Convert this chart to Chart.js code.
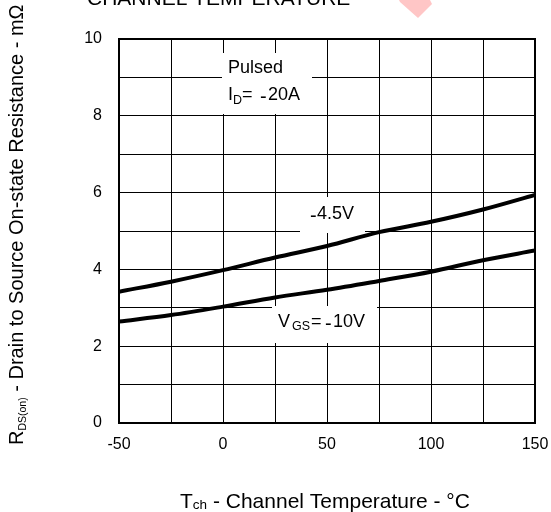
<!DOCTYPE html>
<html>
<head>
<meta charset="utf-8">
<script src="https://cdn.jsdelivr.net/npm/chart.js@4/dist/chart.umd.min.js"></script>
<style>
  html, body { margin: 0; padding: 0; background: #fff; }
  #wrap { width: 551px; height: 512px; }
</style>
</head>
<body>
<div id="wrap"><canvas id="c" width="551" height="512"></canvas></div>
<script>
// ---- data ----
const temps = [-50, -25, 0, 25, 50, 75, 100, 125, 150];           // Tch (°C)
const rdsVgs45 = [3.42, 3.68, 3.98, 4.31, 4.61, 4.97, 5.24, 5.56, 5.94]; // VGS = -4.5 V
const rdsVgs10 = [2.64, 2.81, 3.03, 3.27, 3.47, 3.70, 3.94, 4.24, 4.49]; // VGS = -10 V
const xTickLabels = [-50, 0, 50, 100, 150];
const yTickLabels = [0, 2, 4, 6, 8, 10];

const FONT = "'Liberation Sans', Arial, Helvetica, sans-serif";

function drawParts(ctx, parts) {
  for (const p of parts) {
    ctx.font = p.size + 'px ' + FONT;
    ctx.fillText(p.t, p.x, p.y);
  }
}

const decor = {
  id: 'decor',
  beforeDatasetsDraw(chart) {
    const ctx = chart.ctx;
    const a = chart.chartArea;
    ctx.save();
    // white label backgrounds (break the grid like the original)
    ctx.fillStyle = '#fff';
    ctx.fillRect(222, 53, 90, 61);
    ctx.fillRect(300, 197, 65, 36);
    ctx.fillRect(272, 306, 105, 37);
    // frame
    ctx.strokeStyle = '#000';
    ctx.lineWidth = 2;
    ctx.strokeRect(a.left, a.top, a.right - a.left, a.bottom - a.top);

    ctx.fillStyle = '#000';
    ctx.textAlign = 'left';
    ctx.textBaseline = 'alphabetic';
    // Pulsed / ID = -20A
    drawParts(ctx, [
      {t: 'Pulsed', x: 228, y: 73, size: 18},
      {t: 'I', x: 228, y: 100, size: 18},
      {t: 'D', x: 233, y: 104, size: 12.5},
      {t: '=', x: 242, y: 100, size: 18},
      {t: '-', x: 260, y: 103, size: 20},
      {t: '20A', x: 268, y: 100, size: 18}
    ]);
    // -4.5V
    drawParts(ctx, [
      {t: '-', x: 310, y: 222, size: 20},
      {t: '4.5V', x: 317, y: 219, size: 18}
    ]);
    // VGS = -10V
    drawParts(ctx, [
      {t: 'V', x: 278, y: 327, size: 18},
      {t: 'GS', x: 292, y: 330, size: 12.5},
      {t: '=', x: 311, y: 327, size: 18},
      {t: '-', x: 325, y: 330, size: 20},
      {t: '10V', x: 333, y: 327, size: 18}
    ]);
    ctx.restore();
  },
  afterDraw(chart) {
    const ctx = chart.ctx;
    ctx.save();
    ctx.fillStyle = '#000';
    ctx.textBaseline = 'alphabetic';
    ctx.textAlign = 'left';
    // cut-off heading at the very top
    ctx.font = '21px ' + FONT;
    ctx.fillText('CHANNEL TEMPERATURE', 87, 5);
    // x-axis title
    let x = 180;
    ctx.font = '21px ' + FONT;
    ctx.fillText('T', x, 508); x += ctx.measureText('T').width;
    ctx.font = '13.5px ' + FONT;
    ctx.fillText('ch', x, 509); x += ctx.measureText('ch').width;
    ctx.font = '21px ' + FONT;
    ctx.fillText(' - Channel Temperature - \u00B0C', x, 508);
    // y-axis title (rotated)
    ctx.translate(23, 445);
    ctx.rotate(-Math.PI / 2);
    let s = 0;
    ctx.font = '20px ' + FONT;
    ctx.fillText('R', s, 0); s += ctx.measureText('R').width;
    ctx.font = '10.5px ' + FONT;
    ctx.fillText('DS(on)', s, 2.5); s += ctx.measureText('DS(on)').width;
    ctx.font = '20px ' + FONT;
    ctx.fillText(' - Drain to Source On-state Resistance - m\u03A9', s, 0);
    ctx.restore();
    // faint watermark fragment
    ctx.save();
    ctx.fillStyle = '#ffc6c6';
    ctx.beginPath();
    ctx.moveTo(399, 0); ctx.lineTo(430, 0); ctx.lineTo(432, 4);
    ctx.lineTo(418, 18); ctx.lineTo(400, 2); ctx.closePath();
    ctx.fill();
    ctx.restore();
  }
};

new Chart(document.getElementById('c'), {
  type: 'line',
  data: {
    datasets: [
      { label: '-4.5V', data: temps.map((t, i) => ({x: t, y: rdsVgs45[i]})) },
      { label: '-10V', data: temps.map((t, i) => ({x: t, y: rdsVgs10[i]})) }
    ]
  },
  options: {
    responsive: false,
    animation: false,
    devicePixelRatio: 1,
    layout: { padding: { left: 0, right: 16, top: 39, bottom: 0 } },
    elements: {
      line: { borderColor: '#000', borderWidth: 4, cubicInterpolationMode: 'monotone', fill: false },
      point: { radius: 0, hoverRadius: 0 }
    },
    plugins: { legend: { display: false }, tooltip: { enabled: false }, title: { display: false } },
    scales: {
      x: {
        type: 'linear', min: -50, max: 150,
        afterFit(s) { s.height = 89; s.paddingLeft = 0; s.paddingRight = 0; },
        ticks: {
          stepSize: 25, color: '#000', padding: 12, maxRotation: 0, autoSkip: false,
          font: { family: FONT, size: 16 },
          callback: v => xTickLabels.includes(v) ? String(v) : ''
        },
        grid: { color: '#000', lineWidth: 1, drawTicks: false },
        border: { display: false }
      },
      y: {
        type: 'linear', min: 0, max: 10,
        afterFit(s) { s.width = 119; s.paddingTop = 0; s.paddingBottom = 0; },
        ticks: {
          stepSize: 1, color: '#000', padding: 17, autoSkip: false,
          font: { family: FONT, size: 16 },
          callback: v => yTickLabels.includes(v) ? String(v) : ''
        },
        grid: { color: '#000', lineWidth: 1, drawTicks: false },
        border: { display: false }
      }
    }
  },
  plugins: [decor]
});
</script>
</body>
</html>
